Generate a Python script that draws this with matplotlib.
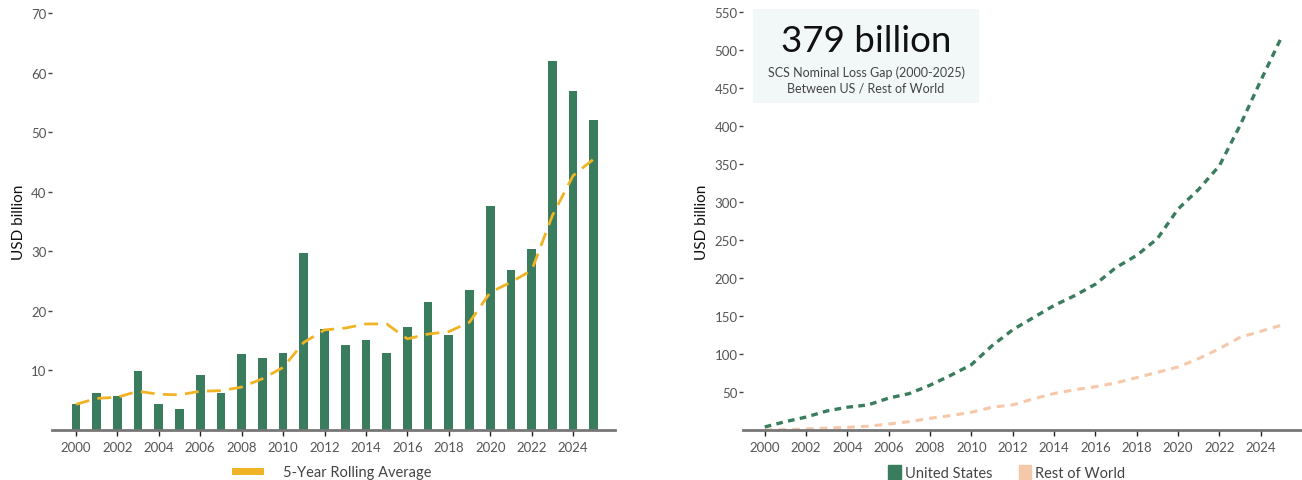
import matplotlib
matplotlib.use("Agg")
import matplotlib.pyplot as plt
from matplotlib.lines import Line2D
from matplotlib.patches import Patch

# =========================
# DATA
# =========================

years = list(range(2000, 2026))

us_annual = [4.3, 6.2, 5.7, 9.9, 4.4, 3.5, 9.2, 6.2, 12.8, 12.1, 12.9, 29.7, 17.0,
             14.3, 15.1, 12.9, 17.3, 21.5, 15.9, 23.5, 37.6, 26.9, 30.4, 61.9, 56.9, 52.0]

rolling_avg = [4.3, 5.3, 5.5, 6.5, 6.0, 5.9, 6.5, 6.6, 7.2, 8.6, 10.5, 14.7, 16.8,
               17.1, 17.8, 17.8, 15.3, 16.1, 16.5, 18.1, 23.1, 24.8, 26.8, 36.0, 42.7, 45.5]

us_cum = [4, 11, 17, 25, 30, 33, 42, 48, 59, 72, 86, 111, 132,
          148, 164, 177, 192, 214, 230, 252, 291, 317, 348, 401, 460, 517]

row_cum = [0, 0.5, 1.3, 2.5, 3.5, 5, 7.9, 11, 15.4, 19, 23.3, 30, 33,
           41, 48, 53, 57, 62, 69, 76, 83, 94, 107, 122, 130, 138]

left_yticks = [10, 20, 30, 40, 50, 60, 70]
right_yticks = [50, 100, 150, 200, 250, 300, 350, 400, 450, 500, 550]
xticks = list(range(2000, 2026, 2))

GREEN = "#3a7c5e"
ORANGE = "#f0b323"
PEACH = "#f5c8aa"
TICKC = "#555555"

plt.rcParams['font.family'] = ['Lato', 'DejaVu Sans']

fig = plt.figure(figsize=(13.02, 4.81), dpi=100)
ax1 = fig.add_axes([0.040, 0.104, 0.432, 0.867])
ax2 = fig.add_axes([0.5707, 0.104, 0.4293, 0.868])


def style(ax):
    for s in ["top", "right", "left"]:
        ax.spines[s].set_visible(False)
    ax.spines["bottom"].set_color("#777777")
    ax.spines["bottom"].set_linewidth(2)
    ax.tick_params(axis="y", length=3, width=1, pad=1, colors="#444444",
                   labelsize=9.5, labelcolor=TICKC)
    ax.tick_params(axis="x", length=4, width=1, pad=4, colors="#222222",
                   labelsize=9.5, labelcolor=TICKC)
    ax.set_xticks(xticks)
    ax.set_ylabel("USD billion", fontsize=11, color="#111111", labelpad=4)


# =========================
# LEFT: annual bars + rolling average
# =========================

ax1.bar(years, us_annual, width=0.42, color=GREEN, zorder=2)
ax1.plot(years, rolling_avg, color=ORANGE, lw=2, ls=(0, (5, 3)), zorder=3)
style(ax1)
ax1.set_xlim(1998.85, 2026.0)
ax1.set_ylim(0, 70)
ax1.set_yticks(left_yticks)
ax1.legend(handles=[Line2D([], [], color=ORANGE, lw=5)],
           labels=["5-Year Rolling Average"], loc="upper center",
           bbox_to_anchor=(0.5, -0.066), frameon=False, fontsize=10.5,
           handlelength=1.7, handletextpad=1.6, borderpad=0,
           labelcolor="#444444")

# =========================
# RIGHT: cumulative lines
# =========================

ax2.plot(years, us_cum, color=GREEN, lw=2.4, ls=(0, (2, 1.6)), zorder=3)
ax2.plot(years, row_cum, color=PEACH, lw=2.2, ls=(0, (2.5, 2)), zorder=2)
style(ax2)
ax2.set_xlim(1998.95, 2026.0)
ax2.set_ylim(0, 550)
ax2.set_yticks(right_yticks)
ax2.legend(handles=[Patch(color=GREEN), Patch(color=PEACH)],
           labels=["United States", "Rest of World"], loc="upper center",
           bbox_to_anchor=(0.472, -0.066), frameon=False, fontsize=10.5,
           handlelength=0.85, handleheight=1.1, handletextpad=0.3,
           columnspacing=1.8, ncol=2, borderpad=0, labelcolor="#444444")

# annotation box
box = fig.add_axes([753 / 1302, 1 - 104 / 481, 226 / 1302, 94 / 481])
box.set_facecolor("#f2f7f7")
box.set_xticks([])
box.set_yticks([])
for s in box.spines.values():
    s.set_visible(False)
box.text(0.5, 0.66, "379 billion", ha="center", va="center",
         fontsize=26.5, color="#111111")
box.text(0.5, 0.25, "SCS Nominal Loss Gap (2000-2025)\nBetween US / Rest of World",
         ha="center", va="center", fontsize=9, color="#444444", linespacing=1.35)

plt.savefig("out.png", dpi=100)
